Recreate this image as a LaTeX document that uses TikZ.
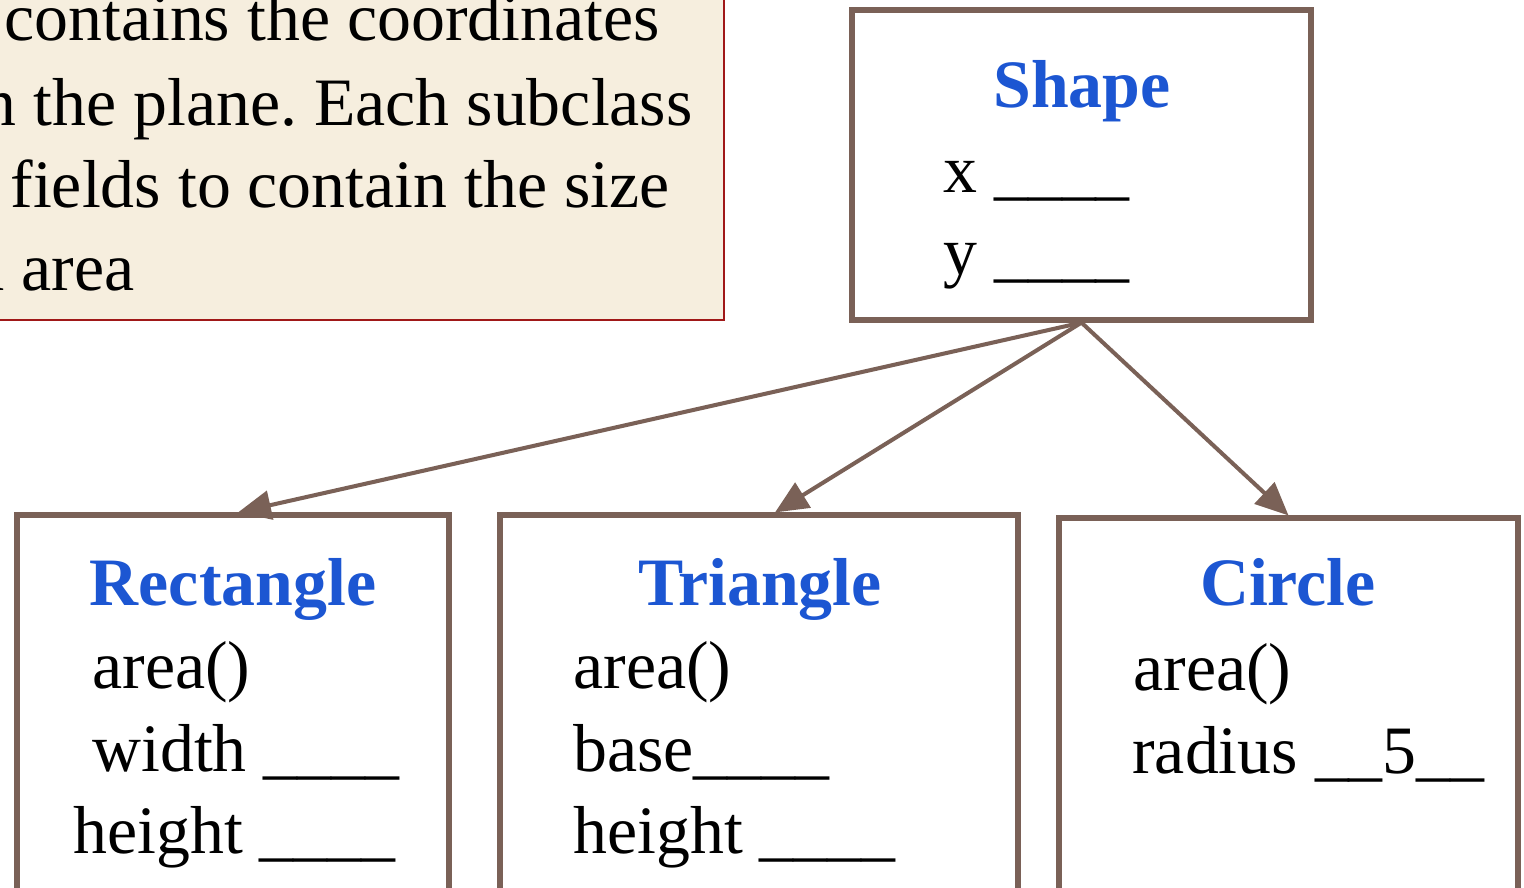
\documentclass[tikz,border=0pt]{standalone}
\usepackage{fontspec}
\setmainfont{Liberation Serif}
\usetikzlibrary{arrows.meta}
\definecolor{boxbrown}{RGB}{122,97,87}
\definecolor{titleblue}{RGB}{28,86,210}
\definecolor{notefill}{RGB}{246,238,222}
\definecolor{noteline}{RGB}{160,24,24}
\frenchspacing

\begin{document}
\begin{tikzpicture}[
        x=0.02cm, y=-0.02cm,
        classbox/.style={draw=boxbrown, line width=3pt, fill=white, inner sep=0pt},
        notebox/.style={draw=noteline, line width=1pt, fill=notefill, inner sep=0pt, minimum width=14.88cm, minimum height=6.8cm},
        title/.style={font=\fontsize{38.6}{46}\selectfont\bfseries, text=titleblue, anchor=base, inner sep=0pt},
        field/.style={font=\fontsize{38.6}{46}\selectfont, anchor=base west, inner sep=0pt},
        notetext/.style={font=\fontsize{38.6}{46}\selectfont, anchor=base east, inner sep=0pt},
        arrow/.style={-{Triangle[length=0.66cm, width=0.58cm]}, draw=boxbrown, line width=2.3pt},
    ]
        \useasboundingbox (0,0) rectangle (1524,887);
        \clip (0,0) rectangle (1524,887);

        % Note (cut off at the left and top)
        \node[notebox] (note) at (352,150) {};
        \node[notetext] (n1) at (660,40) {contains the coordinates};
        \node[notetext] (n2) at (693,125) {n the plane. Each subclass};
        \node[notetext] (n3) at (670,207) {fields to contain the size};
        \node[notetext] (n4) at (135,290) {a area};

        % Base class
        \node[classbox, minimum width=9.18cm, minimum height=6.2cm] (shape) at (1081.5,165) {};
        \node[title] (shape-t) at (1082,107) {Shape};
        \node[field] (shape-x) at (943,192) {x \_\_\_\_};
        \node[field] (shape-y) at (943,274) {y \_\_\_\_};

        % Subclasses (run off the bottom)
        \node[classbox, minimum width=8.64cm, minimum height=9.7cm] (rect) at (233,757.5) {};
        \node[classbox, minimum width=10.36cm, minimum height=9.7cm] (tri) at (759,757.5) {};
        \node[classbox, minimum width=9.18cm, minimum height=9.64cm] (circ) at (1288.5,759) {};

        \node[title] (rect-t) at (233,605) {Rectangle};
        \node[field] (rect-a) at (92,688) {area()};
        \node[field] (rect-w) at (92,771) {width \_\_\_\_};
        \node[field] (rect-h) at (73,853) {height \_\_\_\_};

        \node[title] (tri-t) at (760,605) {Triangle};
        \node[field] (tri-a) at (573,688) {area()};
        \node[field] (tri-b) at (573,771) {base\_\_\_\_};
        \node[field] (tri-h) at (573,853) {height \_\_\_\_};

        \node[title] (circ-t) at (1288,605) {Circle};
        \node[field] (circ-a) at (1133,690) {area()};
        \node[field] (circ-r) at (1132,773) {radius \_\_5\_\_};

        % Inheritance arrows
        \draw[arrow] (shape.south) -- ([xshift=0.1cm]rect.north);
        \draw[arrow] (shape.south) -- ([xshift=0.32cm]tri.north);
        \draw[arrow] (shape.south) -- (circ.north);
\end{tikzpicture}
\end{document}
